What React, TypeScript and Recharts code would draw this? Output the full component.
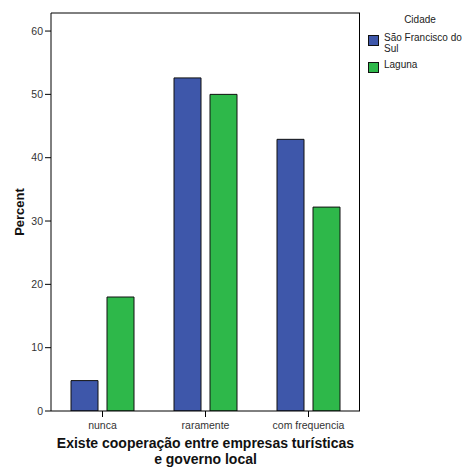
import React from "react";
import { BarChart, Bar, XAxis, YAxis, ReferenceLine } from "recharts";

const categories = ["nunca", "raramente", "com frequencia"];
const saoFrancisco = [4.8, 52.6, 42.9];
const laguna = [18.0, 50.0, 32.2];
const yTicks = [0, 10, 20, 30, 40, 50, 60];
const seriesNames = ["São Francisco do Sul", "Laguna"];
const yMax = 62.85;

const data = categories.map((c, i) => ({ cat: c, sfs: saoFrancisco[i], lag: laguna[i] }));

const BLUE = "#3E57AA";
const GREEN = "#2EB84A";
const FONT = "'Liberation Sans', Arial, Helvetica, sans-serif";

const XLabel = (props: any) => {
  const vb = props.viewBox || {};
  const cx = vb.x + vb.width / 2;
  return (
    <text x={cx} y={vb.y + 37} textAnchor="middle" fontFamily={FONT} fontSize={14} fontWeight="bold" fill="#111">
      <tspan x={cx} dy={0}>Existe cooperação entre empresas turísticas</tspan>
      <tspan x={cx} dy={16}>e governo local</tspan>
    </text>
  );
};

const YLabel = (props: any) => {
  const vb = props.viewBox || {};
  const cy = vb.y + vb.height / 2;
  const x = 24;
  return (
    <text x={x} y={cy} transform={`rotate(-90, ${x}, ${cy})`} textAnchor="middle" fontFamily={FONT} fontSize={13} fontWeight="bold" fill="#111">
      Percent
    </text>
  );
};

export default function App() {
  return (
    <div style={{ position: "absolute", left: 0, top: 0, width: 466, height: 469, background: "#fff" }}>
      <BarChart
        width={466}
        height={469}
        data={data}
        margin={{ top: 13, right: 106, bottom: 38, left: 0 }}
        barCategoryGap={20}
        barGap={9}
      >
        <XAxis
          dataKey="cat"
          height={20}
          axisLine={{ stroke: "#000", strokeWidth: 1 }}
          tickLine={{ stroke: "#000" }}
          tickSize={6}
          tickMargin={5}
          tick={{ fontFamily: FONT, fontSize: 10.5, fill: "#333" }}
          label={<XLabel />}
        />
        <YAxis
          width={51}
          domain={[0, yMax]}
          ticks={yTicks}
          allowDataOverflow
          axisLine={{ stroke: "#000", strokeWidth: 1 }}
          tickLine={{ stroke: "#000" }}
          tickSize={6}
          tickMargin={2}
          tick={{ fontFamily: FONT, fontSize: 10.5, fill: "#333" }}
          label={<YLabel />}
        />
        <ReferenceLine y={yMax} stroke="#000" strokeWidth={1} ifOverflow="visible" />
        <Bar dataKey="sfs" name={seriesNames[0]} fill={BLUE} stroke="#111" strokeWidth={1} isAnimationActive={false} />
        <Bar dataKey="lag" name={seriesNames[1]} fill={GREEN} stroke="#111" strokeWidth={1} isAnimationActive={false} />
      </BarChart>
      <div style={{ position: "absolute", left: 359, top: 13, width: 0, height: 398, borderLeft: "1px solid #000" }} />
      <div style={{ position: "absolute", left: 366, top: 14, width: 100, fontFamily: FONT, fontSize: 10, color: "#222" }}>
        <div style={{ textAlign: "center", marginBottom: 7, paddingLeft: 8 }}>Cidade</div>
        {seriesNames.map((n, i) => (
          <div key={n} style={{ display: "flex", alignItems: "flex-start", marginBottom: 5 }}>
            <div style={{ width: 9, height: 9, background: i === 0 ? BLUE : GREEN, border: "1px solid #111", marginTop: 3, marginLeft: 2, marginRight: 5, flexShrink: 0 }} />
            <div style={{ lineHeight: "11px" }}>{n}</div>
          </div>
        ))}
      </div>
    </div>
  );
}
